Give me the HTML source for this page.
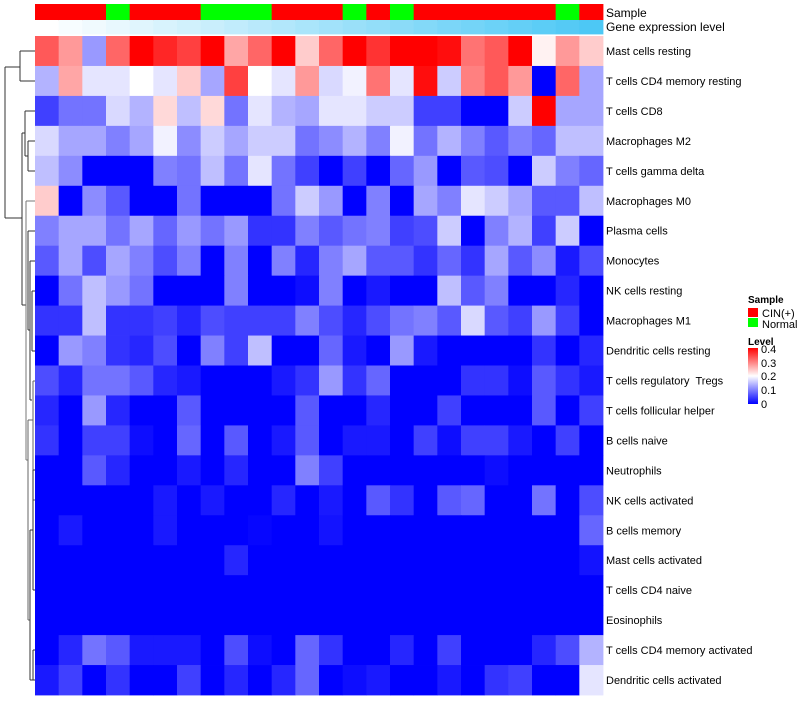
<!DOCTYPE html>
<html><head><meta charset="utf-8"><style>
body{margin:0;background:#fff;}
svg text{font-family:"Liberation Sans",sans-serif;white-space:pre;}
</style></head><body>
<svg id="chart" width="800" height="700" xmlns="http://www.w3.org/2000/svg">
<g id="dendro" stroke="#333" stroke-width="1" fill="none">
<path d="M5,67V218M5,67H20M5,218H22"/>
<path d="M20,51V81M20,51H35M20,81H35"/>
<path d="M22,133V305M22,133H25M22,305H26"/>
<path d="M25,111V156M25,111H35M25,156H28M28,141V171M28,141H35M28,171H35"/>
<path stroke="#777" d="M26,201V460M26,201H35M26,460H28"/>
<path d="M28,231V330M28,231H35M28,330H30M30,261V400M30,261H35M30,400H32M32,291V351M32,291H35M32,351H35"/>
<path stroke="#666" d="M28,420V620M28,420H33M28,620H30M33,381V500M33,381H35M33,500H35"/>
<path d="M30,530V680M30,530H33M30,680H33M33,470V590M33,470H35M33,590H35M33,650V680M33,650H35M33,680H35"/>
</g>
<g id="cells"></g>
<g id="labels"></g>
<text x="606" y="17" font-size="12">Sample</text>
<text x="606" y="31" font-size="12">Gene expression level</text>
<g font-size="11">
<text x="748" y="303" font-weight="bold" font-size="10">Sample</text>
<rect x="748" y="308" width="10" height="9" fill="#ff0000"/>
<text x="762" y="317">CIN(+)</text>
<rect x="748" y="318" width="10" height="9" fill="#00ff00"/>
<text x="762" y="328">Normal</text>
<text x="748" y="345" font-weight="bold" font-size="10">Level</text>
<defs><linearGradient id="lg" x1="0" y1="1" x2="0" y2="0"><stop offset="0" stop-color="#0000ff"/><stop offset="0.5" stop-color="#ffffff"/><stop offset="1" stop-color="#ff0000"/></linearGradient></defs>
<rect x="748" y="348" width="10" height="56" fill="url(#lg)"/>
<text x="761" y="353">0.4</text>
<text x="761" y="367">0.3</text>
<text x="761" y="380">0.2</text>
<text x="761" y="394">0.1</text>
<text x="761" y="408">0</text>
</g>
</svg>
<script>
const rowNames=["Mast cells resting","T cells CD4 memory resting","T cells CD8","Macrophages M2","T cells gamma delta","Macrophages M0","Plasma cells","Monocytes","NK cells resting","Macrophages M1","Dendritic cells resting","T cells regulatory  Tregs","T cells follicular helper","B cells naive","Neutrophils","NK cells activated","B cells memory","Mast cells activated","T cells CD4 naive","Eosinophils","T cells CD4 memory activated","Dendritic cells activated"];
const sampleGroups=["CIN","CIN","CIN","Normal","CIN","CIN","CIN","Normal","Normal","Normal","CIN","CIN","CIN","Normal","CIN","Normal","CIN","CIN","CIN","CIN","CIN","CIN","Normal","CIN"];
const geneLevels=[0,1,2,3,4,5,6,7,8,9,10,11,12,13,14,15,16,17,18,19,20,21,22,23];
const r01=[.33,.28,.12,.32,.4,.37,.35,.4,.27,.32,.4,.24,.32,.4,.36,.4,.4,.39,.31,.33,.4,.21,.28,.24];
const r02=[.14,.27,.18,.18,.2,.18,.24,.13,.35,.2,.18,.28,.17,.19,.31,.18,.39,.16,.3,.33,.28,0,.32,.13];
const r03=[.05,.09,.09,.17,.14,.23,.15,.23,.09,.18,.14,.13,.18,.18,.16,.16,.05,.05,0,0,.16,.4,.13,.13];
const r04=[.17,.13,.13,.1,.13,.19,.11,.16,.13,.16,.16,.09,.11,.14,.1,.19,.09,.14,.1,.07,.1,.08,.15,.15];
const r05=[.15,.11,0,0,0,.1,.09,.15,.09,.18,.09,.05,0,.05,0,.08,.12,0,.07,.06,0,.16,.1,.08];
const r06=[.24,0,.11,.07,0,0,.09,0,0,0,.09,.16,.12,0,.1,0,.13,.1,.18,.16,.13,.07,.07,.15];
const r07=[.1,.13,.13,.09,.13,.08,.12,.09,.12,.04,.04,.1,.07,.09,.1,.05,.06,.16,0,.1,.14,.05,.16,0];
const r08=[.07,.13,.06,.13,.1,.06,.1,0,.1,0,.1,.03,.1,.13,.07,.07,.04,.08,.04,.13,.07,.11,.02,.06];
const r09=[0,.09,.15,.12,.09,0,0,0,.1,0,0,.01,.1,0,.02,0,0,.15,.07,.1,0,0,.03,0];
const r10=[.04,.04,.15,.04,.04,.05,.03,.06,.05,.05,.05,.1,.06,.03,.06,.09,.1,.07,.17,.07,.05,.12,.05,0];
const r11=[0,.12,.1,.04,.03,.06,0,.1,.05,.15,0,0,.08,.02,0,.12,.02,0,0,0,0,.04,0,.03];
const r12=[.06,.03,.09,.09,.07,.03,.02,0,0,0,.02,.04,.12,.04,.08,0,0,0,.04,.04,.01,.07,.04,.02];
const r13=[.03,0,.12,.03,0,0,.07,0,0,0,0,.07,0,0,.03,0,0,.05,0,0,0,.07,0,.05];
const r14=[.04,0,.05,.05,.01,0,.08,0,.07,0,.02,.07,0,.02,.02,0,.05,.01,.05,.05,.02,0,.05,0];
const r15=[0,0,.07,.03,0,0,.02,0,.03,0,0,.1,.05,0,0,0,0,0,0,.01,0,0,0,0];
const r16=[0,0,0,0,0,.02,0,.02,0,0,.03,0,.02,0,.07,.04,0,.07,.08,0,0,.09,0,.06];
const r17=[0,.02,0,0,0,.02,0,0,0,.005,0,0,.015,0,0,0,0,0,0,0,0,0,0,.08];
const r18=[0,0,0,0,0,0,0,0,.03,0,0,0,0,0,0,0,0,0,0,0,0,0,0,.015];
const r19=[0,0,0,0,0,0,0,0,0,0,0,0,0,0,0,0,0,0,0,0,0,0,0,0];
const r20=[0,0,0,0,0,0,0,0,0,0,0,0,0,0,0,0,0,0,0,0,0,0,0,0];
const r21=[0,.03,.09,.07,.02,.02,.02,0,.06,.01,0,.08,.04,0,0,.03,0,.05,0,0,0,.03,.06,.14];
const r22=[.02,.05,0,.04,0,0,.05,0,.03,0,.03,.08,0,.01,.02,0,0,.02,0,.04,.05,0,0,.18];
const values=[r01,r02,r03,r04,r05,r06,r07,r08,r09,r10,r11,r12,r13,r14,r15,r16,r17,r18,r19,r20,r21,r22];

const NS="http://www.w3.org/2000/svg";
const X0=35,X1=603,Y0=36,Y1=695;
const nCol=sampleGroups.length,nRow=rowNames.length;
const cw=(X1-X0)/nCol,rh=(Y1-Y0)/nRow;
function xPos(j){return X0+j*cw;}
function yPos(i){return Y0+i*rh;}
function colorOf(v){
  v=Math.max(0,Math.min(0.4,v));
  if(v<=0.2){const t=v/0.2;const c=Math.round(255*t);return `rgb(${c},${c},255)`;}
  const t=(v-0.2)/0.2;const c=Math.round(255*(1-t));return `rgb(255,${c},${c})`;
}
const gmax=Math.max(...geneLevels);
function geneColor(v){const t=v/gmax;
  const r=Math.round(255+(77-255)*t),g=Math.round(255+(200-255)*t),b=Math.round(255+(245-255)*t);return `rgb(${r},${g},${b})`;}
const cells=document.getElementById('cells');
const labels=document.getElementById('labels');
function rect(x,y,w,h,f){const r=document.createElementNS(NS,'rect');r.setAttribute('x',x);r.setAttribute('y',y);r.setAttribute('width',w+0.4);r.setAttribute('height',h+0.4);r.setAttribute('fill',f);return r;}
for(let j=0;j<nCol;j++){
  const a=rect(xPos(j),4,cw,16,sampleGroups[j]==="CIN"?"#ff0000":"#00ff00");
  
  
  cells.appendChild(a);
  const g=rect(xPos(j),20,cw,14,geneColor(geneLevels[j]));
  
  
  cells.appendChild(g);
}
for(let i=0;i<nRow;i++){
  for(let j=0;j<nCol;j++){
    const c=rect(xPos(j),yPos(i),cw,rh,colorOf(values[i][j]));
    
    
    cells.appendChild(c);
  }
  const t=document.createElementNS(NS,'text');
  t.setAttribute('x',606);t.setAttribute('y',yPos(i)+rh/2+4);
  t.setAttribute('font-size','11');t.textContent=rowNames[i];
  
  
  labels.appendChild(t);
}
</script>
</body></html>
